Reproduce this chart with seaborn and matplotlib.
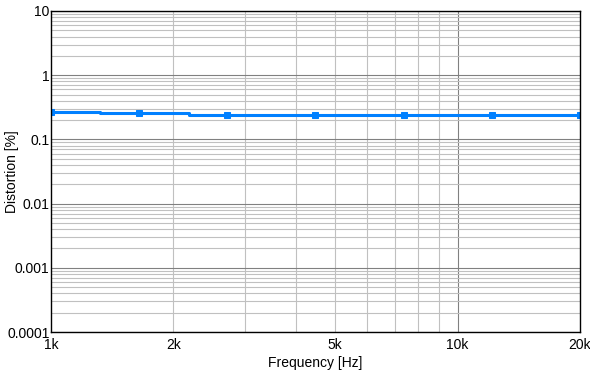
import seaborn as sns
import matplotlib.pyplot as plt
import pandas as pd
from matplotlib.ticker import FixedLocator, FixedFormatter, LogLocator, NullFormatter

# readings at the marker frequencies
freq_hz = [1000, 1647, 2714, 4472, 7368, 12139, 20000]
distortion_pct = [0.272, 0.256, 0.241, 0.240, 0.240, 0.240, 0.240]

x_ticks = [1000, 2000, 5000, 10000, 20000]
x_labels = ['1k', '2k', '5k', '10k', '20k']
y_ticks = [0.0001, 0.001, 0.01, 0.1, 1, 10]
y_labels = ['0.0001', '0.001', '0.01', '0.1', '1', '10']

df = pd.DataFrame({'freq': freq_hz, 'dist': distortion_pct})

sns.set_style('white', {'text.color': 'black', 'axes.labelcolor': 'black',
                        'xtick.color': 'black', 'ytick.color': 'black'})
plt.rcParams['font.family'] = ['Liberation Sans', 'DejaVu Sans']

fig = plt.figure(figsize=(5.9, 3.72), dpi=100)
ax = fig.add_axes([51 / 590, 40 / 372, 529 / 590, 321 / 372])

ax.set_xscale('log')
ax.set_yscale('log')
ax.set_xlim(1000, 20000)
ax.set_ylim(0.0001, 10)

# grid: light minor, darker major
ax.xaxis.set_major_locator(FixedLocator([10000]))
ax.xaxis.set_minor_locator(FixedLocator([2000, 3000, 4000, 5000, 6000, 7000, 8000, 9000]))
ax.yaxis.set_major_locator(FixedLocator(y_ticks))
ax.yaxis.set_minor_locator(LogLocator(base=10, subs=range(2, 10), numticks=20))
ax.grid(which='minor', color='#c0c0c0', lw=0.8)
ax.grid(which='major', color='#808080', lw=0.8)
ax.set_axisbelow(True)

sns.lineplot(data=df, x='freq', y='dist', ax=ax, color='#0080ff', lw=2.2,
             drawstyle='steps-mid', marker='s', markersize=5,
             markeredgecolor='#0080ff', legend=False)

# x tick labels as text so the grid stays independent
ax.xaxis.set_major_formatter(NullFormatter())
ax.xaxis.set_minor_formatter(NullFormatter())
for xv, lab in zip(x_ticks, x_labels):
    ax.text(xv, -0.02, lab, transform=ax.get_xaxis_transform(),
            ha='center', va='top', fontsize=10, color='black', clip_on=False)
ax.yaxis.set_major_formatter(FixedFormatter(y_labels))
ax.yaxis.set_minor_formatter(NullFormatter())
ax.tick_params(which='both', length=0, labelsize=10, pad=1, labelcolor='black')

ax.set_xlabel('Frequency [Hz]', fontsize=10, color='black')
ax.xaxis.set_label_coords(0.5, -0.075)
ax.set_ylabel('Distortion [%]', fontsize=10, va='center', color='black')
ax.yaxis.set_label_coords(-0.074, 0.5)

for s in ax.spines.values():
    s.set_color('black')
    s.set_linewidth(1)

fig.savefig('out.png', dpi=100)
